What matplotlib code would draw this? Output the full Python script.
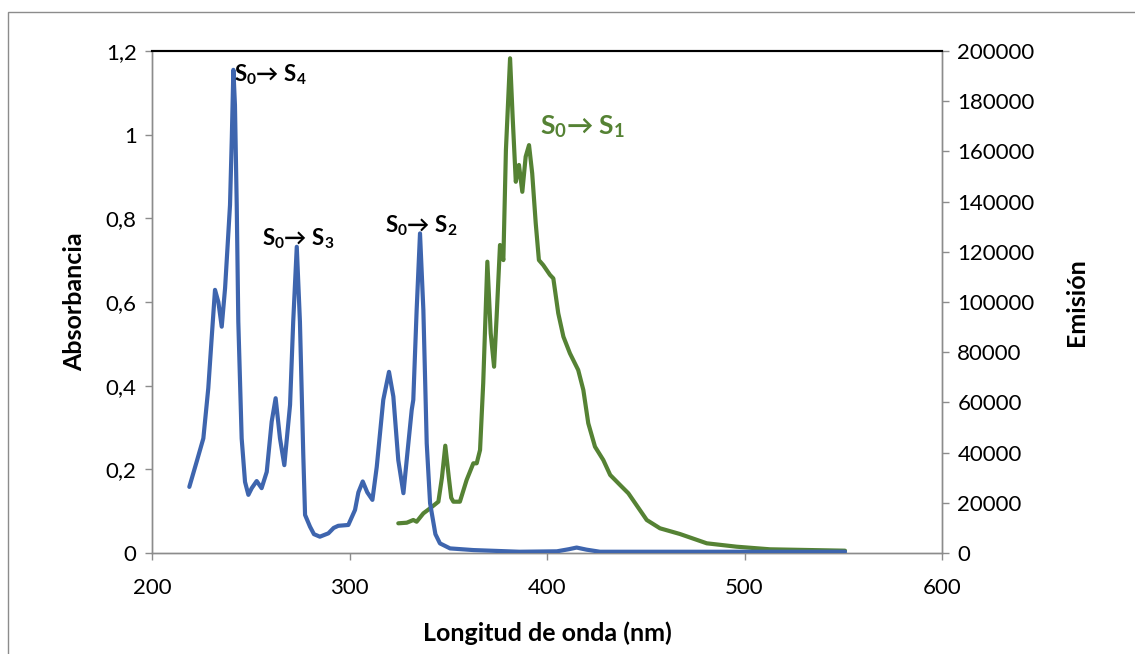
import matplotlib.pyplot as plt
from matplotlib.patches import Rectangle

# absorción (eje izquierdo)
abs_nm = [218.9, 222.6, 226.0, 228.5, 230.2, 231.9, 233.6, 235.3, 237.0, 238.6, 239.5, 240.4,
          241.2, 242.0, 242.9, 243.7, 245.4, 247.1, 248.8, 250.5, 253.0, 255.5, 258.1, 260.6,
          262.6, 264.8, 267.0, 269.9, 271.5, 273.3, 274.9, 276.6, 277.5, 280.0, 282.0, 285.0,
          289.3, 292.0, 294.3, 299.4, 302.8, 304.5, 306.7, 309.0, 311.6, 313.8, 317.1, 320.0,
          322.2, 324.7, 327.3, 329.8, 331.5, 332.3, 334.0, 335.7, 337.4, 339.1, 340.8, 343.5,
          345.8, 350.9, 362.7, 386.0, 405.0, 411.0, 415.0, 420.0, 426.8, 550.9]
abs_val = [0.158, 0.218, 0.274, 0.394, 0.513, 0.629, 0.60, 0.541, 0.633, 0.76, 0.832, 0.991,
           1.155, 1.071, 0.832, 0.553, 0.274, 0.17, 0.139, 0.155, 0.172, 0.155, 0.194, 0.314,
           0.37, 0.274, 0.21, 0.354, 0.553, 0.732, 0.553, 0.234, 0.091, 0.063, 0.045, 0.039,
           0.047, 0.06, 0.065, 0.067, 0.103, 0.145, 0.171, 0.145, 0.127, 0.206, 0.366, 0.433,
           0.374, 0.222, 0.143, 0.262, 0.342, 0.366, 0.581, 0.764, 0.581, 0.262, 0.119, 0.045,
           0.023, 0.011, 0.007, 0.003, 0.004, 0.009, 0.013, 0.008, 0.003, 0.003]

# emisión (eje derecho)
em_nm = [324.7, 329.0, 332.3, 334.0, 337.4, 340.8, 345.0, 346.8, 348.5, 350.3, 351.5, 352.6,
         355.9, 359.3, 362.7, 364.4, 366.1, 367.7, 369.8, 371.5, 373.2, 374.5, 376.2, 377.9,
         379.2, 381.3, 382.6, 384.2, 385.8, 387.5, 389.2, 390.9, 392.5, 394.3, 395.9, 398.1,
         401.5, 403.2, 405.7, 408.3, 411.6, 415.8, 418.4, 420.9, 424.3, 428.5, 432.0, 437.0,
         441.2, 450.5, 457.2, 467.3, 480.9, 496.0, 512.9, 550.9]
em_val = [11830, 12070, 13150, 12470, 15800, 17800, 20440, 30000, 42750, 30000, 22000, 20440,
          20440, 29080, 35730, 35730, 41030, 67600, 116060, 87530, 74220, 94150, 122700, 116700,
          160550, 197100, 173800, 147900, 154600, 143900, 157900, 162500, 151300, 131300, 116700, 114700,
          110800, 109400, 95500, 86200, 79560, 72900, 64940, 51670, 42350, 37050, 31080, 27090,
          23780, 13150, 9840, 7570, 3860, 2510, 1470, 920]

x_ticks = [200, 300, 400, 500, 600]
abs_ticks = [0, 0.2, 0.4, 0.6, 0.8, 1.0, 1.2]
abs_labels = ['0', '0,2', '0,4', '0,6', '0,8', '1', '1,2']
em_ticks = [0, 20000, 40000, 60000, 80000, 100000, 120000, 140000, 160000, 180000, 200000]

plt.rcParams['font.family'] = ['Lato', 'DejaVu Sans']
plt.rcParams['mathtext.fontset'] = 'custom'
plt.rcParams['mathtext.rm'] = 'Lato'
plt.rcParams['mathtext.bf'] = 'Lato:bold'
plt.rcParams['mathtext.it'] = 'Lato:italic'

fig = plt.figure(figsize=(11.35, 6.54), dpi=100)
ax = fig.add_axes([152 / 1135, 1 - 553 / 654, 790 / 1135, 502 / 654])
ax2 = ax.twinx()

blue = '#3E65AE'
green = '#558234'
ax.plot(abs_nm, abs_val, color=blue, lw=3, solid_capstyle='round', solid_joinstyle='round', zorder=3)
ax2.plot(em_nm, em_val, color=green, lw=3, solid_capstyle='round', solid_joinstyle='round')
ax.set_zorder(ax2.get_zorder() + 1)
ax.patch.set_visible(False)

ax.set_xlim(200, 600)
ax.set_ylim(0, 1.2)
ax2.set_ylim(0, 200000)
ax.set_xticks(x_ticks)
ax.set_yticks(abs_ticks)
ax.set_yticklabels(abs_labels)
ax2.set_yticks(em_ticks)
ax2.set_yticklabels([str(v) for v in em_ticks])

for a in (ax, ax2):
    for s in a.spines.values():
        s.set_color('#8C8C8C')
        s.set_linewidth(1.0)
    a.spines['top'].set_color('black')
    a.spines['top'].set_linewidth(1.5)
    a.tick_params(labelsize=16, color='#8C8C8C', length=5, width=1, pad=6)
ax.tick_params(axis='x', pad=13)

ax.set_xlabel('Longitud de onda (nm)', fontsize=18, fontweight='bold', labelpad=17)
ax.set_ylabel('Absorbancia', fontsize=18, fontweight='bold', labelpad=14)
ax2.set_ylabel('Emisión', fontsize=18, fontweight='bold', labelpad=22)

lab = dict(fontsize=16, fontweight='bold', color='black', va='center', ha='left')
ax.text(241.5, 1.143, r'S$_\mathbf{0}$→ S$_\mathbf{4}$', **lab)
ax.text(255.8, 0.75, r'S$_\mathbf{0}$→ S$_\mathbf{3}$', **lab)
ax.text(317.8, 0.783, r'S$_\mathbf{0}$→ S$_\mathbf{2}$', **lab)
ax.text(396.5, 1.02, r'S$_\mathbf{0}$→ S$_\mathbf{1}$', fontsize=19, fontweight='bold',
        color=green, va='center', ha='left')

fig.patches.append(Rectangle((8 / 1135, -0.1), 1.2, 1 - 12 / 654 + 0.1, transform=fig.transFigure,
                             fill=False, edgecolor='#8C8C8C', lw=1.0))

fig.savefig('out.png', dpi=100)
